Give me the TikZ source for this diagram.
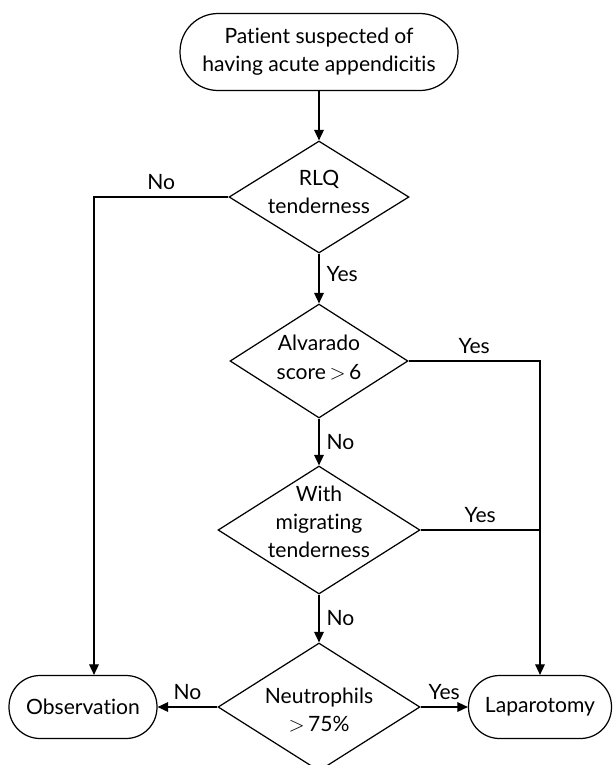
\documentclass[tikz,border=0pt]{standalone}
\usepackage{fontspec}
\setmainfont[Ligatures={NoCommon,NoRequired,NoContextual,NoDiscretionary}]{Lato}
\usepackage{tikz}
\usetikzlibrary{shapes.geometric,arrows.meta}

\begin{document}
\begin{tikzpicture}[
  x=0.02cm, y=-0.02cm,
  line width=0.7pt,
  font=\fontsize{12}{16}\selectfont,
  endbox/.style={
    rectangle,
    draw,
    align=center,
    inner sep=0pt
  },
  decision/.style 2 args={
    diamond,
    draw,
    inner sep=0pt,
    label={[align=center,yshift=#2]center:#1}
  },
  arr/.style={-{Triangle[length=6pt,width=5.5pt]}},
  lbl/.style={inner sep=4pt}
]
\useasboundingbox (0,0) rectangle (613,765);
\node[endbox, minimum width=5.56cm, minimum height=1.54cm, rounded corners=0.76cm] (start) at (319,52) {Patient suspected of\\having acute appendicitis};
\node[decision={RLQ\\tenderness}{3pt}, minimum width=3.6cm, minimum height=2.24cm] (rlq) at (319,197) {};
\node[decision={Alvarado\\score\,$>$\,6}{2pt}, minimum width=3.56cm, minimum height=2.28cm] (alvarado) at (319,361) {};
\node[decision={With\\migrating\\tenderness}{4.5pt}, minimum width=4.04cm, minimum height=2.56cm] (migrating) at (319,530) {};
\node[decision={Neutrophils\\$>$\,75\%}{-1.5pt}, minimum width=4.04cm, minimum height=2.56cm] (neutro) at (319,707) {};
\node[endbox, minimum width=2.96cm, minimum height=1.26cm, rounded corners=0.62cm] (obs) at (83,707) {Observation};
\node[endbox, minimum width=2.86cm, minimum height=1.26cm, rounded corners=0.62cm] (lap) at (540,707) {Laparotomy};
\coordinate (nocorner) at (94,197);
\coordinate (yescorner) at (alvarado.east -| lap.north);

\draw[arr] (start) -- (rlq);
\draw[arr] (rlq.west) -- node[lbl, above] {No} (nocorner) -- (nocorner |- obs.north);
\draw[arr] (rlq) -- node[lbl, right, pos=0.42] {Yes} (alvarado);
\draw[arr] (alvarado.east) -- node[lbl, above] {Yes} (yescorner) -- (lap.north);
\draw[arr] (alvarado) -- node[lbl, right] {No} (migrating);
\draw (migrating.east) -- node[lbl, above] {Yes} (migrating.east -| lap.north);
\draw[arr] (migrating) -- node[lbl, right] {No} (neutro);
\draw[arr] (neutro.west) -- node[lbl, above] {No} (obs.east);
\draw[arr] (neutro.east) -- node[lbl, above] {Yes} (lap.west);
\end{tikzpicture}
\end{document}
